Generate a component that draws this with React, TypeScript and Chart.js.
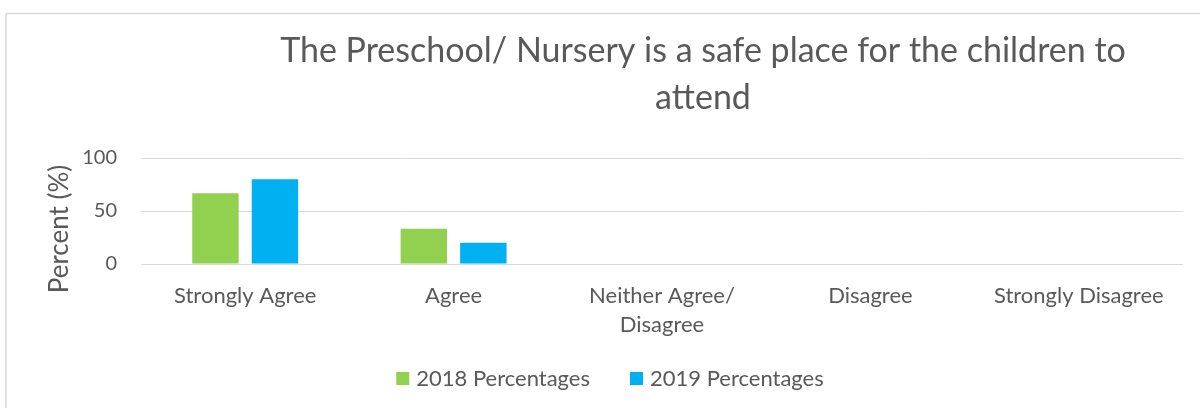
import React, { useEffect, useRef } from "react";
import { Chart, registerables } from "chart.js";

Chart.register(...registerables);

const categories: (string | string[])[] = [
  "Strongly Agree",
  "Agree",
  ["Neither Agree/", "Disagree"],
  "Disagree",
  "Strongly Disagree",
];
const values2018 = [66.7, 33.3, 0, 0, 0];
const values2019 = [80, 20, 0, 0, 0];
const seriesNames = ["2018 Percentages", "2019 Percentages"];
const seriesColors = ["#92D050", "#00B0F0"];
const titleLines = ["The Preschool/ Nursery is a safe place for the children to", "attend"];
const yAxisTitle = "Percent (%)";
const yMin = 0;
const yMax = 100;
const yStep = 50;

const TEXT = "#595959";
const GRID = "#D9D9D9";
const FONT = "Lato";

const framePlugin = {
  id: "frame",
  beforeDraw(chart: any) {
    const ctx = chart.ctx;
    ctx.save();
    ctx.fillStyle = "#ffffff";
    ctx.fillRect(0, 0, chart.width, chart.height);
    ctx.strokeStyle = GRID;
    ctx.lineWidth = 1.5;
    ctx.strokeRect(6, 13.5, chart.width + 50, chart.height + 50);
    ctx.restore();
  },
};

const textPlugin = {
  id: "fixedTexts",
  afterDraw(chart: any) {
    const ctx = chart.ctx;
    ctx.save();
    ctx.fillStyle = TEXT;
    ctx.textAlign = "center";
    ctx.textBaseline = "middle";
    // chart title
    ctx.font = `34px ${FONT}`;
    titleLines.forEach((line, i) => {
      ctx.fillText(line, 703, 51 + i * 47);
    });
    // y axis title
    ctx.save();
    ctx.font = `26px ${FONT}`;
    ctx.translate(60, 229);
    ctx.rotate(-Math.PI / 2);
    ctx.fillText(yAxisTitle, 0, 0);
    ctx.restore();
    // legend
    ctx.font = `22px ${FONT}`;
    const box = 13;
    const boxGap = 7;
    const itemGap = 40;
    const items = chart.data.datasets.map((ds: any) => ({
      text: ds.label as string,
      color: ds.backgroundColor as string,
      w: ctx.measureText(ds.label).width,
    }));
    const total =
      items.reduce((s: number, it: any) => s + box + boxGap + it.w, 0) +
      itemGap * (items.length - 1);
    let x = 610 - total / 2;
    const cy = 378.5;
    ctx.textAlign = "left";
    items.forEach((it: any) => {
      ctx.fillStyle = it.color;
      ctx.fillRect(x, cy - box / 2, box, box);
      ctx.fillStyle = TEXT;
      ctx.fillText(it.text, x + box + boxGap, cy);
      x += box + boxGap + it.w + itemGap;
    });
    ctx.restore();
  },
};

export default function App() {
  const canvasRef = useRef<HTMLCanvasElement | null>(null);

  useEffect(() => {
    if (!canvasRef.current) return;
    const chart = new Chart(canvasRef.current, {
      type: "bar",
      data: {
        labels: categories as any,
        datasets: [
          {
            label: seriesNames[0],
            data: values2018,
            backgroundColor: seriesColors[0],
            borderWidth: 0,
            categoryPercentage: 0.571,
            barPercentage: 0.78,
          },
          {
            label: seriesNames[1],
            data: values2019,
            backgroundColor: seriesColors[1],
            borderWidth: 0,
            categoryPercentage: 0.571,
            barPercentage: 0.78,
          },
        ],
      },
      options: {
        animation: false,
        responsive: true,
        maintainAspectRatio: false,
        layout: { padding: { left: 0, right: 17, top: 158, bottom: 64 } },
        plugins: {
          title: { display: false },
          tooltip: { enabled: false },
          legend: { display: false },
        },
        scales: {
          x: {
            grid: { display: false, drawTicks: false },
            border: { display: false },
            ticks: {
              color: TEXT,
              font: { family: FONT, size: 22, lineHeight: 1.32 },
              maxRotation: 0,
              autoSkip: false,
              padding: 17,
            },
            afterFit(scale: any) {
              scale.height = 80;
            },
          },
          y: {
            min: yMin,
            max: yMax,
            grid: { color: GRID, lineWidth: 1, drawTicks: false },
            border: { display: false },
            ticks: {
              stepSize: yStep,
              color: TEXT,
              font: { family: FONT, size: 20 },
              padding: 24,
            },
            afterFit(scale: any) {
              scale.width = 141;
            },
          },
        },
      },
      plugins: [framePlugin, textPlugin],
    });
    return () => chart.destroy();
  }, []);

  return (
    <div style={{ position: "fixed", left: 0, top: 0, width: 1200, height: 408 }}>
      <canvas ref={canvasRef} />
    </div>
  );
}
